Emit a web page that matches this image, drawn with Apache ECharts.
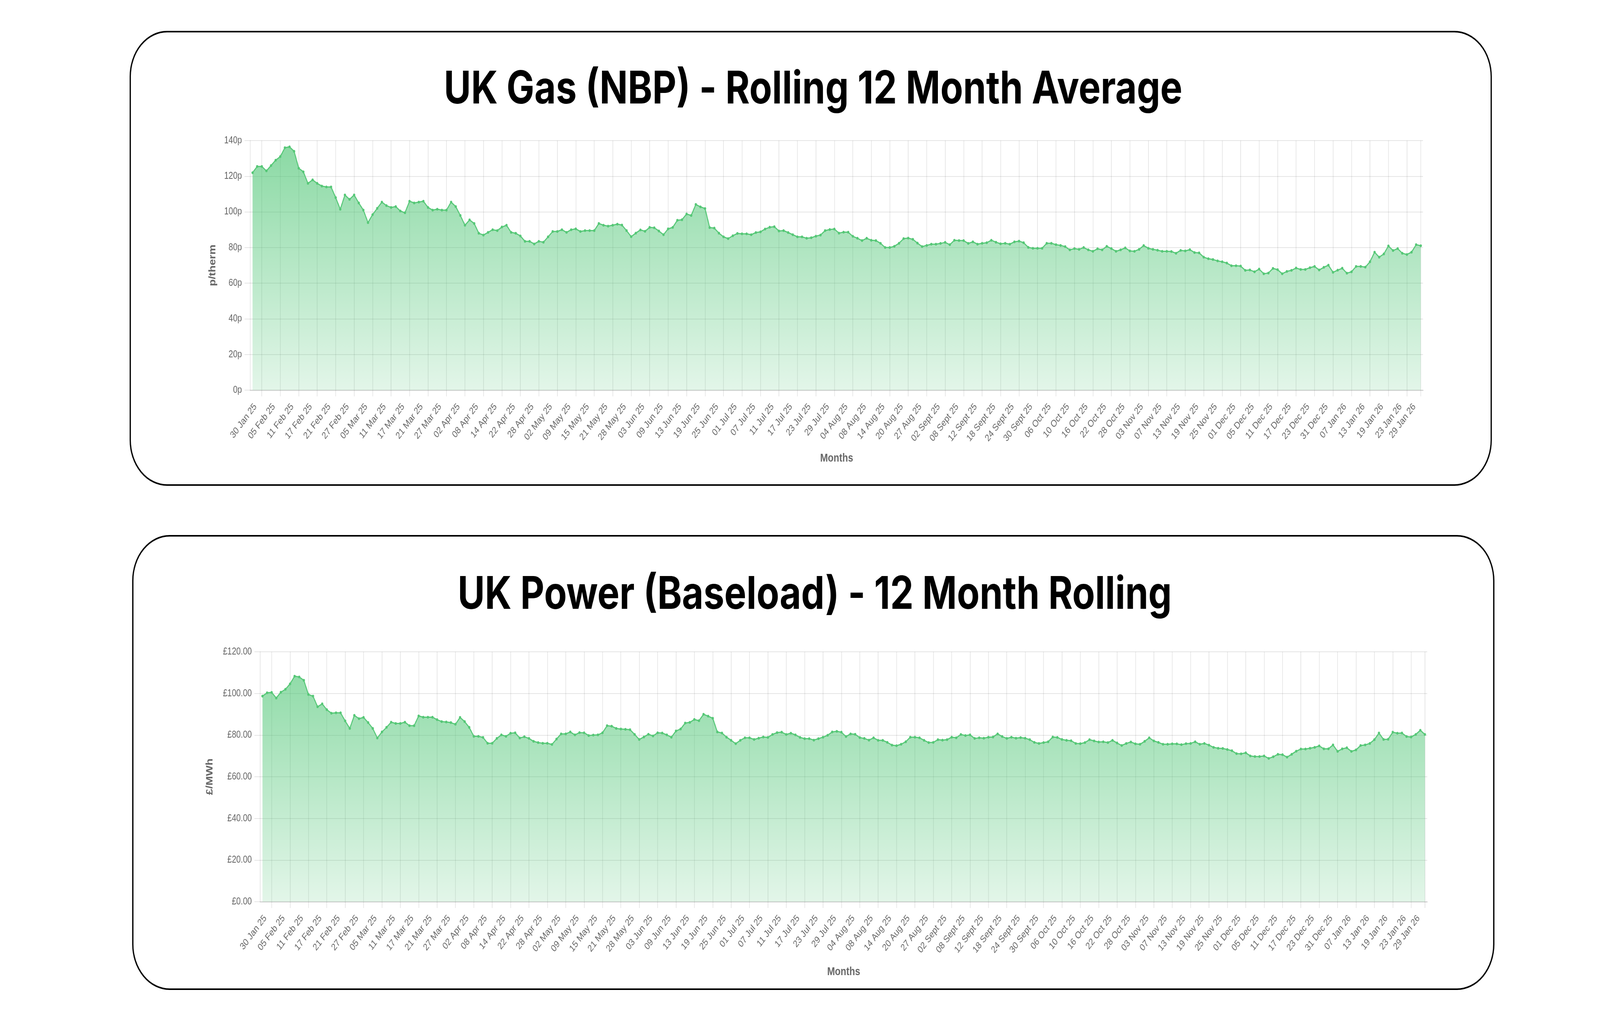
<!DOCTYPE html>
<html>
<head>
<meta charset="utf-8">
<script src="https://cdn.jsdelivr.net/npm/echarts@6.0.0/dist/echarts.min.js"></script>
<style>
  html, body { margin: 0; padding: 0; background: #ffffff; overflow: hidden; }
  #c { width: 5000px; height: 2617px; transform-origin: 0 0; }
</style>
</head>
<body>
<div id="c"></div>
<script>
// ---------------- DATA ----------------
const gasTitle = 'UK Gas (NBP) - Rolling 12 Month Average';
const powerTitle = 'UK Power (Baseload) - 12 Month Rolling';

// business days shown on the category axis (UK working days)
const firstDay = '2025-01-28';
const lastDay = '2026-01-29';
const skippedDays = ['2025-04-18', '2025-04-21', '2025-05-05', '2025-05-26', '2025-08-25',
                     '2025-12-25', '2025-12-26', '2026-01-01', '2026-01-26'];
const monthNames = ['Jan', 'Feb', 'Mar', 'Apr', 'May', 'Jun', 'Jul', 'Aug', 'Sept', 'Oct', 'Nov', 'Dec'];

// UK Gas NBP, pence per therm
const gasValues = [
  122, 125.5, 125.5, 123, 126, 129, 131, 136, 136.5, 134,
  124.5, 122.5, 116, 118, 116, 114.5, 114, 114, 108, 101.5,
  109.5, 107, 109.5, 105, 101, 94, 98.5, 102, 105.5, 103.5,
  102.5, 103, 100.5, 99.5, 106, 105, 105.5, 106, 102.5, 101,
  101.5, 101, 101, 105.5, 103, 98, 92.5, 95.5, 93.5, 88,
  87, 88.5, 90, 89.5, 91.5, 92.5, 88.5, 88, 86.5, 83.5,
  83.5, 82, 83.5, 83, 86, 89, 89, 90, 88.5, 90,
  90.5, 89, 89.5, 89.5, 89.5, 93.5, 92.5, 92, 92.5,
  93.1, 92.6, 89.5, 86.1, 88.1, 89.9, 89.1, 91.3, 91.1, 89.3,
  87.2, 90.5, 91.3, 95.3, 95.6, 98.8, 98.0, 104.2, 102.8, 101.9,
  91.2, 90.9, 88.1, 86.0, 85.0, 86.6, 87.9, 87.7, 87.7, 87.2,
  88.4, 88.8, 90.4, 91.4, 91.7, 89.3, 89.5, 88.4, 87.2, 86.0,
  86.0, 85.2, 85.5, 86.4, 87.0, 89.5, 90.1, 90.4, 88.1, 88.6,
  88.6, 86.3, 85.2, 83.9, 85.2, 84.1, 83.9, 82.4, 80.0, 80.0,
  80.7, 82.4, 85.0, 85.3, 84.6, 82.5, 80.5, 81.2, 81.9, 81.9,
  82.3, 82.9, 81.6, 84.1, 83.9, 83.9, 82.3, 83.2, 81.9, 82.4,
  82.7, 84.1, 83.0, 82.1, 82.4, 81.9,
  83.2, 83.6, 82.7, 80.1, 79.6, 79.6, 79.6, 82.4, 82.4, 81.6,
  81.2, 80.5, 78.7, 79.4, 79.0, 80.0, 78.7, 77.9, 79.3, 78.7,
  80.7, 79.4, 77.9, 78.7, 79.8, 78.1, 77.9, 79.0, 81.1, 79.6,
  79.0, 78.5, 77.9, 77.9, 77.8, 76.8, 78.4, 78.1, 78.8, 77.2,
  77.0, 74.6, 73.7, 73.3, 72.5, 72.0, 71.3, 69.8, 69.8, 69.6,
  67.2, 67.4, 66.4, 67.9, 65.3, 65.7, 68.3, 67.6, 65.3, 66.6,
  67.2, 68.5, 67.7, 67.7, 68.7, 69.4, 67.4, 68.9, 70.1, 66.1,
  67.3, 68.4, 65.6, 66.4, 69.4, 69.4, 69.0, 72.0, 77.4, 74.6,
  76.4, 80.9, 78.3, 79.4, 76.8, 76.1, 77.4, 81.6, 81.0
];

// UK Power baseload, £/MWh
const powerValues = [
  98.7, 100.3, 100.5, 97.8, 100.6, 102.0, 104.6, 108.3, 107.9, 106.3,
  99.5, 98.7, 93.6, 95.0, 92.2, 90.5, 90.7, 90.7, 86.8, 83.2,
  89.5, 87.9, 88.5, 86.0, 83.2, 78.6, 81.5, 83.7, 86.2, 85.6,
  85.6, 86.2, 84.5, 84.5, 89.2, 88.6, 88.6, 88.6, 87.4, 86.5,
  86.3, 86.0, 85.2, 88.5, 86.5, 83.7, 79.4, 79.4, 78.9, 76.1,
  76.1, 78.4, 80.1, 79.4, 80.9, 81.1, 78.6, 79.2, 78.4, 77.0,
  76.4, 76.1, 76.1, 75.5, 78.1, 80.6, 80.6, 81.5, 80.1, 81.2,
  81.1, 79.8, 80.0, 80.1, 81.1, 84.5, 84.3, 83.2, 82.9,
  82.8, 82.6, 80.3, 77.9, 79.1, 80.4, 79.6, 81.1, 81.0, 80.1,
  79.0, 82.0, 82.9, 85.8, 86.1, 87.5, 86.9, 90.0, 89.1, 88.1,
  81.5, 81.0, 79.0, 77.5, 75.9, 77.5, 78.7, 78.7, 77.9, 78.5,
  79.1, 78.9, 80.3, 81.2, 81.4, 80.3, 80.9, 80.1, 78.9, 78.3,
  78.3, 77.6, 78.3, 79.0, 79.9, 81.5, 81.8, 81.4, 79.3, 80.6,
  80.4, 78.8, 78.4, 77.6, 78.7, 77.5, 77.5, 76.5, 75.2, 74.9,
  75.6, 76.8, 79.0, 79.0, 78.7, 77.5, 76.4, 76.5, 77.8, 77.6,
  77.8, 79.0, 78.7, 80.3, 79.8, 80.1, 78.4, 78.7, 78.5, 79.0,
  79.1, 80.6, 79.3, 78.4, 79.0, 78.5,
  78.8, 78.5, 77.8, 76.5, 76.0, 76.4, 76.8, 79.1, 78.9, 77.9,
  77.5, 77.3, 76.0, 75.9, 76.4, 77.8, 77.2, 76.7, 76.8, 76.4,
  77.5, 76.2, 75.0, 76.0, 76.7, 75.8, 75.6, 77.0, 78.7, 77.2,
  76.5, 75.6, 75.6, 75.8, 75.8, 75.4, 75.9, 76.0, 76.8, 75.6,
  76.0, 75.2, 74.1, 73.7, 73.6, 73.1, 72.5, 71.1, 71.0, 71.5,
  70.0, 69.7, 69.7, 70.0, 68.8, 69.6, 70.8, 70.6, 69.4, 70.8,
  72.3, 73.3, 73.3, 73.7, 74.1, 74.8, 73.4, 73.4, 75.3, 72.2,
  73.4, 73.9, 72.2, 72.9, 75.0, 75.3, 76.0, 77.8, 81.0, 77.9,
  78.0, 81.4, 80.9, 81.0, 79.3, 79.1, 80.3, 82.3, 80.3
];

// y-axis ticks
const gasTicks = { min: 0, max: 140, step: 20 };
const powerTicks = { min: 0, max: 120, step: 20 };

// ---------------- CATEGORIES ----------------
function buildCategories() {
  const out = [];
  const d = new Date(firstDay + 'T00:00:00Z');
  const end = new Date(lastDay + 'T00:00:00Z');
  while (d <= end) {
    const iso = d.toISOString().slice(0, 10);
    const wd = d.getUTCDay();
    if (wd !== 0 && wd !== 6 && skippedDays.indexOf(iso) < 0) {
      const dd = String(d.getUTCDate()).padStart(2, '0');
      const yy = String(d.getUTCFullYear()).slice(2);
      out.push(dd + ' ' + monthNames[d.getUTCMonth()] + ' ' + yy);
    }
    d.setUTCDate(d.getUTCDate() + 1);
  }
  return out;
}
const categories = buildCategories();

// ---------------- LAYOUT / STYLE ----------------
const W = 5000, H = 2617;
const L = {
  top:    { left: 782, top: 360, width: 3665, height: 639 },
  bottom: { left: 813, top: 1669, width: 3647, height: 640 }
};
const gridColor = 'rgba(0,0,0,0.1)';
const tickFont = 'Liberation Sans';
const lineGreen = '#55c776';
const titleFont = { fontFamily: 'Inter', fontWeight: 700, fontSize: 116, color: '#000' };

function shownIndex(i) {
  const last = categories.length - 1;
  return (i % 4 === 2 && i <= last - 3) || i === last;
}

function makeXAxis(gridIndex, gap) {
  return {
    type: 'category',
    gridIndex: gridIndex,
    data: categories,
    boundaryGap: true,
    name: 'Months',
    nameLocation: 'middle',
    nameGap: gap,
    nameTextStyle: { fontFamily: tickFont, fontWeight: 'bold', fontSize: 29, color: '#666' },
    axisLine: { show: true, lineStyle: { color: '#d0d0d0', width: 2.5 } },
    axisTick: { show: true, alignWithLabel: true, interval: shownIndex, length: 16,
                lineStyle: { color: gridColor, width: 2 } },
    axisLabel: { show: true, interval: shownIndex, rotate: 48, fontSize: 25, color: '#666',
                 fontFamily: tickFont, margin: 16, padding: [0, 30, 0, 0] },
    splitLine: { show: true, interval: shownIndex, alignWithLabel: true,
                 lineStyle: { color: gridColor, width: 2 } }
  };
}

function makeYAxis(gridIndex, ticks, fmt, name, gap) {
  return {
    type: 'value',
    gridIndex: gridIndex,
    min: ticks.min, max: ticks.max, interval: ticks.step,
    name: name,
    nameLocation: 'middle',
    nameGap: gap,
    nameRotate: 90,
    nameTextStyle: { fontFamily: tickFont, fontWeight: 'bold', fontSize: 29, color: '#666' },
    axisLine: { show: true, lineStyle: { color: 'rgba(0,0,0,0.1)', width: 2 } },
    axisTick: { show: true, length: 18, lineStyle: { color: gridColor, width: 2 } },
    axisLabel: { formatter: fmt, fontSize: 25, color: '#666', fontFamily: tickFont, margin: 26 },
    splitLine: { show: true, lineStyle: { color: gridColor, width: 2 } }
  };
}

function areaGradient(g) {
  return new echarts.graphic.LinearGradient(0, g.top, 0, g.top + g.height, [
    { offset: 0, color: 'rgba(72,196,112,0.92)' },
    { offset: 1, color: 'rgba(72,196,112,0.22)' }
  ], true);
}

function makeSeries(idx, values, g) {
  return {
    type: 'line',
    xAxisIndex: idx,
    yAxisIndex: idx,
    data: values,
    smooth: false,
    symbol: 'circle',
    symbolSize: 7,
    showSymbol: true,
    showAllSymbol: true,
    lineStyle: { color: lineGreen, width: 3 },
    itemStyle: { color: lineGreen },
    areaStyle: { color: areaGradient(g) },
    silent: true
  };
}

const frameStyle = { fill: 'none', stroke: '#000000', lineWidth: 4 };

const option = {
  animation: false,
  backgroundColor: '#ffffff',
  title: [
    { text: gasTitle, left: 2536, top: 167, textAlign: 'center', textStyle: titleFont },
    { text: powerTitle, left: 2541, top: 1461, textAlign: 'center', textStyle: titleFont }
  ],
  graphic: [
    { type: 'rect', z: -10, shape: { x: 407, y: 81, width: 4253, height: 1161, r: 115 }, style: frameStyle },
    { type: 'rect', z: -10, shape: { x: 415, y: 1372, width: 4253, height: 1161, r: 115 }, style: frameStyle }
  ],
  grid: [
    Object.assign({ containLabel: false }, L.top),
    Object.assign({ containLabel: false }, L.bottom)
  ],
  xAxis: [ makeXAxis(0, 160), makeXAxis(1, 165) ],
  yAxis: [
    makeYAxis(0, gasTicks, '{value}p', 'p/therm', 103),
    makeYAxis(1, powerTicks, function (v) { return '£' + v.toFixed(2); }, '£/MWh', 143)
  ],
  series: [ makeSeries(0, gasValues, L.top), makeSeries(1, powerValues, L.bottom) ]
};

// the chart is laid out on a 5000 x 2617 page and fitted to the real viewport
const el = document.getElementById('c');
const sx = (window.innerWidth || W) / W;
const sy = (window.innerHeight || H) / H;
el.style.transform = 'scale(' + sx + ',' + sy + ')';

const chart = echarts.init(el, null, { renderer: 'canvas', width: W, height: H });
chart.setOption(option);
</script>
</body>
</html>
